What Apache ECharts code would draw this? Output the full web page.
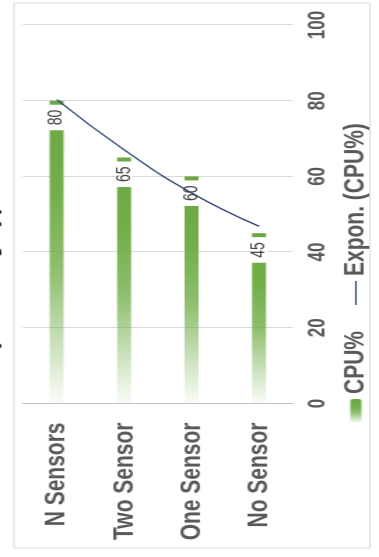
<!DOCTYPE html>
<html>
<head>
<meta charset="utf-8">
<script src="https://cdn.jsdelivr.net/npm/echarts@6/dist/echarts.min.js"></script>
<style>
  html, body { margin: 0; padding: 0; background: #fff; overflow: hidden; }
  body { width: 379px; height: 557px; position: relative; }
  /* The chart is laid out upright, then turned a quarter turn counter-clockwise
     and widened across the page. */
  #chart {
    position: absolute; left: 0; top: 0;
    width: 557px; height: 271px;
    transform-origin: 0 0;
    transform: translate(0px, 557px) scaleX(1.3985) rotate(-90deg);
  }
</style>
</head>
<body>
<div id="chart"></div>
<script>
// Data
const categories = ['N Sensors', 'Two Sensor', 'One Sensor', 'No Sensor'];
const cpuValues = [80, 65, 60, 45];
const trendValues = [80.3, 67.0, 55.6, 46.8];   // exponential trendline
const valueTicks = [0, 20, 40, 60, 80, 100];
const titleText = 'CPU% by Sensing Type';

const FONT = '"Liberation Sans", Arial, sans-serif';
const chart = echarts.init(document.getElementById('chart'), null, { renderer: 'canvas' });

const barFill = new echarts.graphic.LinearGradient(0, 0, 1, 0, [
  { offset: 0, color: 'rgba(112,173,71,0.03)' },
  { offset: 0.45, color: 'rgba(112,173,71,0.8)' },
  { offset: 0.7, color: '#72ae4a' },
  { offset: 1, color: '#6aa845' }
]);

chart.setOption({
  animation: false,
  backgroundColor: '#fff',
  textStyle: { fontFamily: FONT },
  graphic: [
    {
      type: 'rect', silent: true,
      shape: { x: 9, y: 10, width: 545, height: 254.6 },
      style: { fill: 'none', stroke: '#d9d9d9', lineWidth: 1 }
    },
    {
      // chart title, sitting mostly above the visible area
      type: 'text', silent: true, x: 245, y: 0.8,
      style: {
        text: titleText, fontSize: 22, fontWeight: 'bold', fontFamily: FONT,
        fill: '#1a1a1a', align: 'center', verticalAlign: 'bottom'
      }
    }
  ],
  grid: { left: 153.5, right: 25, top: 16.45, bottom: 61.5, containLabel: false },
  legend: {
    data: [
      { name: 'CPU%' },
      { name: 'Expon. (CPU%)', icon: 'path://M0,0 L24,0 L24,1.1 L0,1.1 Z' }
    ],
    orient: 'horizontal',
    left: 129, top: 239,
    itemWidth: 24, itemHeight: 8, itemGap: 26,
    textStyle: { fontSize: 21, fontWeight: 'bold', color: '#595959', fontFamily: FONT }
  },
  xAxis: {
    type: 'value',
    min: valueTicks[0], max: valueTicks[valueTicks.length - 1],
    interval: valueTicks[1] - valueTicks[0],
    axisLine: { show: false },
    axisTick: { show: false },
    splitLine: { lineStyle: { color: '#d9d9d9', width: 1 } },
    axisLabel: { color: '#595959', fontWeight: 'bold', fontSize: 17, margin: 9, fontFamily: FONT }
  },
  yAxis: {
    type: 'category',
    data: categories,
    inverse: true,
    axisLine: { show: true, lineStyle: { color: '#bfbfbf', width: 1 } },
    axisTick: { show: false },
    axisLabel: { color: '#595959', fontWeight: 'bold', fontSize: 21, margin: 19, fontFamily: FONT }
  },
  series: [
    {
      name: 'CPU%',
      type: 'bar',
      data: cpuValues,
      barWidth: 10,
      itemStyle: { color: barFill },
      label: {
        show: true,
        position: 'insideRight',
        distance: 4,
        color: '#404040',
        fontSize: 14,
        lineHeight: 12,
        backgroundColor: '#fff',
        padding: [0, 5],
        fontFamily: FONT
      }
    },
    {
      name: 'Expon. (CPU%)',
      type: 'line',
      data: trendValues,
      smooth: true,
      symbol: 'none',
      z: 5,
      lineStyle: { color: '#203864', width: 1.2 },
      itemStyle: { color: '#203864' }
    }
  ]
});
</script>
</body>
</html>
